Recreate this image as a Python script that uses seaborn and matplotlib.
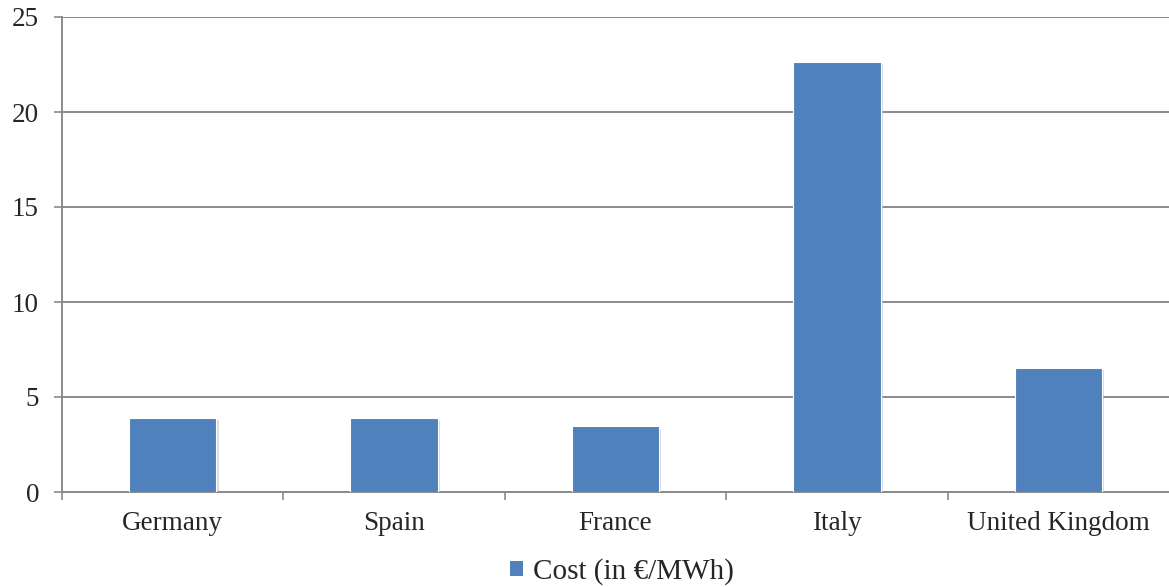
import matplotlib
matplotlib.use("Agg")
import matplotlib.pyplot as plt
import matplotlib.patheffects as pe
from matplotlib.patches import Patch
from matplotlib.ticker import FixedLocator
import seaborn as sns
import pandas as pd

countries = ["Germany", "Spain", "France", "Italy", "United Kingdom"]
costs = [3.9, 3.9, 3.45, 22.65, 6.55]
series_name = "Cost (in €/MWh)"
y_ticks = [0, 5, 10, 15, 20, 25]

sns.set_theme(style="white")
plt.rcParams["font.family"] = ["Liberation Serif", "DejaVu Serif"]

df = pd.DataFrame({"country": countries, "cost": costs, "series": series_name})

fig = plt.figure(figsize=(11.69, 5.87), dpi=100)
ax = fig.add_axes([62 / 1169, 1 - 492 / 587, 1 - 62 / 1169, (492 - 17) / 587])

bar_color = "#4F81BD"
sns.barplot(data=df, x="country", y="cost", color=bar_color, width=0.395,
            ax=ax, edgecolor="white", linewidth=0.8, saturation=1)

for p in ax.patches:
    p.set_path_effects([pe.SimplePatchShadow(offset=(1.5, -1.5), shadow_rgbFace="#bbbbbb", alpha=0.5),
                        pe.Normal()])
    p.set_zorder(3)

ax.set_xlim(-0.5, 4.5)
ax.set_ylim(0, 25)
ax.set_yticks(y_ticks)
ax.set_yticklabels([str(t) for t in y_ticks])
ax.yaxis.grid(True, color="#8a8a8a", linewidth=1.4)
ax.set_axisbelow(True)
ax.set_xlabel("")
ax.set_ylabel("")

grid_c = "#8a8a8a"
for s in ["top", "right"]:
    ax.spines[s].set_visible(False)
for s in ["left", "bottom"]:
    ax.spines[s].set_color(grid_c)
    ax.spines[s].set_linewidth(1.4)

ax.tick_params(axis="y", which="major", length=5.5, width=1.2, color=grid_c,
               labelsize=19.5, pad=11, left=True)
ax.tick_params(axis="x", which="major", length=0, labelsize=19.5, pad=14)
ax.xaxis.set_minor_locator(FixedLocator([-0.5, 0.5, 1.5, 2.5, 3.5]))
ax.tick_params(axis="x", which="minor", length=5.5, width=1.2, color=grid_c, bottom=True)

handles = [Patch(facecolor=bar_color, edgecolor="none", label=series_name)]
fig.legend(handles=handles, loc="center", bbox_to_anchor=(622 / 1169, 1 - 572 / 587),
           frameon=False, fontsize=21, handlelength=0.42, handleheight=0.42,
           handletextpad=0.35, borderaxespad=0)

fig.savefig("out.png", dpi=100)
